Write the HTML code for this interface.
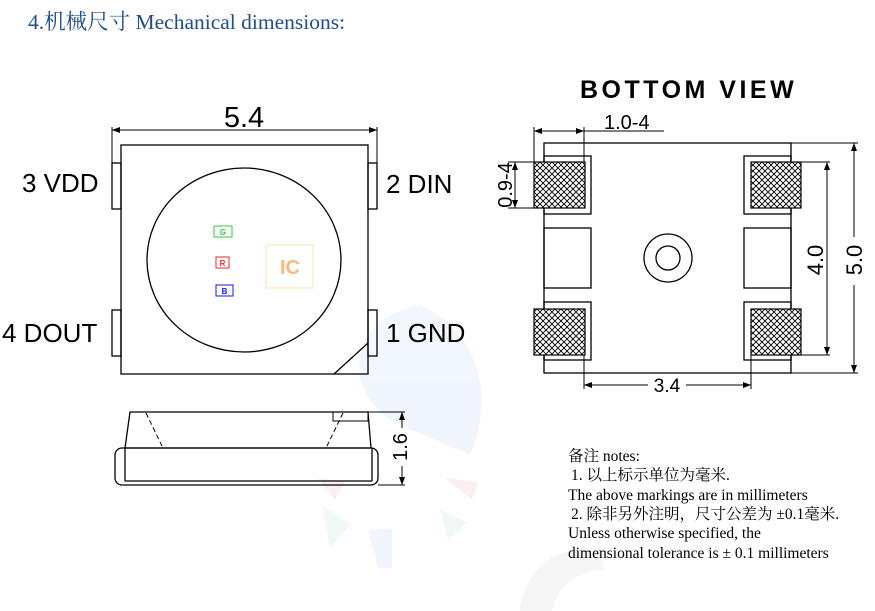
<!DOCTYPE html>
<html><head><meta charset="utf-8"><style>
body{margin:0;background:#fff;width:875px;height:611px;overflow:hidden}
svg{display:block}
</style></head><body>
<svg width="875" height="611" viewBox="0 0 875 611" xmlns="http://www.w3.org/2000/svg" font-family="Liberation Sans, sans-serif">
<defs>
<pattern id="h" width="6" height="6" patternUnits="userSpaceOnUse">
<rect width="6" height="6" fill="#fff"/>
<path d="M0 0L6 6M6 0L0 6" stroke="#000" stroke-width="0.9"/>
</pattern>
<marker id="a" markerWidth="8" markerHeight="6" refX="8" refY="3" orient="auto-start-reverse" markerUnits="userSpaceOnUse"><path d="M0 0L8 3L0 6z" fill="#000"/></marker>
</defs>
<!-- watermark -->
<g opacity="0.35">
<path d="M420 305 C340 320 345 400 400 425 L470 455 C495 400 480 330 420 305z" fill="#d6e8f7"/>
<path d="M318 478 L345 482 L335 500z" fill="#f5d5d5"/>
<path d="M322 505 L350 525 L330 548z" fill="#d5f0e0"/>
<path d="M368 530 L392 528 L392 568 L378 568z" fill="#d6e8f7"/>
<path d="M445 478 L478 482 L472 500z" fill="#f5d5d5"/>
<path d="M440 510 L468 522 L448 540z" fill="#d5f0e0"/>
<path d="M520 611 C525 565 560 545 600 548 L605 570 C578 570 558 585 552 611z" fill="#e6e6e6"/>
</g>
<text x="28" y="29" font-family="Liberation Serif, Noto Serif CJK SC, serif" font-size="21.5" fill="#1f4e8c">4.机械尺寸 Mechanical dimensions:</text>
<g fill="none" stroke="#000" stroke-width="1.3">
<rect x="121" y="145" width="247" height="229"/>
<rect x="112" y="163" width="9" height="46"/>
<rect x="112" y="310" width="9" height="46"/>
<rect x="368" y="163" width="9" height="46"/>
<rect x="368" y="310" width="9" height="46"/>
<ellipse cx="244" cy="260" rx="97" ry="92"/>
<line x1="368" y1="343" x2="334" y2="374"/>
<line x1="112" y1="127" x2="112" y2="163" stroke-width="1"/>
<line x1="377" y1="127" x2="377" y2="163" stroke-width="1"/>
<line x1="112" y1="130" x2="377" y2="130" stroke-width="1" marker-start="url(#a)" marker-end="url(#a)"/>
<path d="M130 412 L368 412 L371 448 L125 448z"/>
<rect x="115" y="448" width="263" height="37" rx="7"/>
<line x1="125" y1="448" x2="125" y2="481"/>
<line x1="125" y1="481" x2="372" y2="481"/>
<line x1="372" y1="448" x2="372" y2="481"/>
<rect x="333" y="412" width="35" height="9" stroke-width="1"/>
<path d="M146 413 L163 448 M343 413 L326 448" stroke-dasharray="5 3" stroke-width="1"/>
<line x1="368" y1="412" x2="405" y2="412" stroke-width="1"/>
<line x1="378" y1="485" x2="405" y2="485" stroke-width="1"/>
<line x1="402" y1="412" x2="402" y2="485" stroke-width="1" marker-start="url(#a)" marker-end="url(#a)"/>
<rect x="544" y="143" width="247" height="230"/>
<rect x="544" y="156" width="47" height="58"/>
<rect x="744" y="156" width="47" height="58"/>
<rect x="544" y="302" width="47" height="58"/>
<rect x="744" y="302" width="47" height="58"/>
<rect x="544" y="228" width="47" height="60"/>
<rect x="744" y="228" width="47" height="60"/>
<circle cx="668" cy="258" r="24"/>
<circle cx="668" cy="258" r="12"/>
</g>
<g stroke="#000" stroke-width="1.2">
<rect x="534" y="162" width="51" height="46" fill="url(#h)"/>
<rect x="751" y="162" width="50" height="46" fill="url(#h)"/>
<rect x="534" y="309" width="51" height="46" fill="url(#h)"/>
<rect x="751" y="309" width="50" height="46" fill="url(#h)"/>
</g>
<g stroke="#000" stroke-width="1" fill="none">
<line x1="534" y1="127" x2="534" y2="162"/>
<line x1="584" y1="127" x2="584" y2="162"/>
<line x1="534" y1="131" x2="664" y2="131" marker-start="url(#a)"/>
<line x1="534" y1="131" x2="584" y2="131" marker-end="url(#a)"/>
<line x1="508" y1="162" x2="534" y2="162"/>
<line x1="508" y1="208" x2="534" y2="208"/>
<line x1="515" y1="162" x2="515" y2="208" marker-start="url(#a)" marker-end="url(#a)"/>
<line x1="801" y1="162" x2="830" y2="162"/>
<line x1="801" y1="355" x2="830" y2="355"/>
<line x1="827" y1="162" x2="827" y2="355" marker-start="url(#a)" marker-end="url(#a)"/>
<line x1="791" y1="143" x2="858" y2="143"/>
<line x1="791" y1="373" x2="858" y2="373"/>
<line x1="854" y1="143" x2="854" y2="373" marker-start="url(#a)" marker-end="url(#a)"/>
<line x1="584" y1="355" x2="584" y2="389"/>
<line x1="751" y1="355" x2="751" y2="389"/>
<line x1="584" y1="385" x2="751" y2="385" marker-start="url(#a)" marker-end="url(#a)"/>
</g>
<rect x="808" y="240" width="14" height="40" fill="#fff"/>
<rect x="846" y="237" width="14" height="48" fill="#fff"/>
<rect x="648" y="378" width="38" height="14" fill="#fff"/>
<rect x="394" y="428" width="14" height="38" fill="#fff"/>
<g font-size="26" fill="#000">
<text x="244" y="127" text-anchor="middle" font-size="29">5.4</text>
<text x="22" y="192">3 VDD</text>
<text x="386" y="193">2 DIN</text>
<text x="2" y="342">4 DOUT</text>
<text x="386" y="342">1 GND</text>
<text x="580" y="98" font-size="25" font-weight="bold" letter-spacing="3.5">BOTTOM VIEW</text>
<text x="604" y="129" font-size="20">1.0-4</text>
<text x="667" y="392" font-size="19" text-anchor="middle">3.4</text>
<text transform="translate(512,185) rotate(-90)" font-size="20" text-anchor="middle">0.9-4</text>
<text transform="translate(823,260) rotate(-90)" font-size="22" text-anchor="middle">4.0</text>
<text transform="translate(862,260) rotate(-90)" font-size="22" text-anchor="middle">5.0</text>
<text transform="translate(407,447) rotate(-90)" font-size="20" text-anchor="middle">1.6</text>
</g>
<rect x="214" y="226" width="18" height="11" fill="none" stroke="#2ecc40"/>
<text x="223" y="235" font-size="8" font-weight="bold" fill="#2ecc40" text-anchor="middle">G</text>
<rect x="216" y="257" width="13" height="11" fill="none" stroke="#ff2020"/>
<text x="222.5" y="266" font-size="8" font-weight="bold" fill="#ff2020" text-anchor="middle">R</text>
<rect x="216" y="285" width="17" height="11" fill="none" stroke="#1010ff"/>
<text x="224.5" y="294" font-size="8" font-weight="bold" fill="#1010ff" text-anchor="middle">B</text>
<rect x="266" y="245" width="47" height="43" fill="none" stroke="#ffe0a8"/>
<text x="290" y="274" font-size="20" font-weight="bold" fill="#f9b97c" text-anchor="middle">IC</text>
<g font-family="Liberation Serif, Noto Serif CJK SC, serif" font-size="15.5" fill="#000">
<text x="568" y="461">备注 notes:</text>
<text x="571" y="480">1. 以上标示单位为毫米.</text>
<text x="568" y="500">The above markings are in millimeters</text>
<text x="571" y="519">2. 除非另外注明，尺寸公差为 ±0.1毫米.</text>
<text x="568" y="538">Unless otherwise specified, the</text>
<text x="568" y="558">dimensional tolerance is ± 0.1 millimeters</text>
</g>
</svg>
</body></html>
